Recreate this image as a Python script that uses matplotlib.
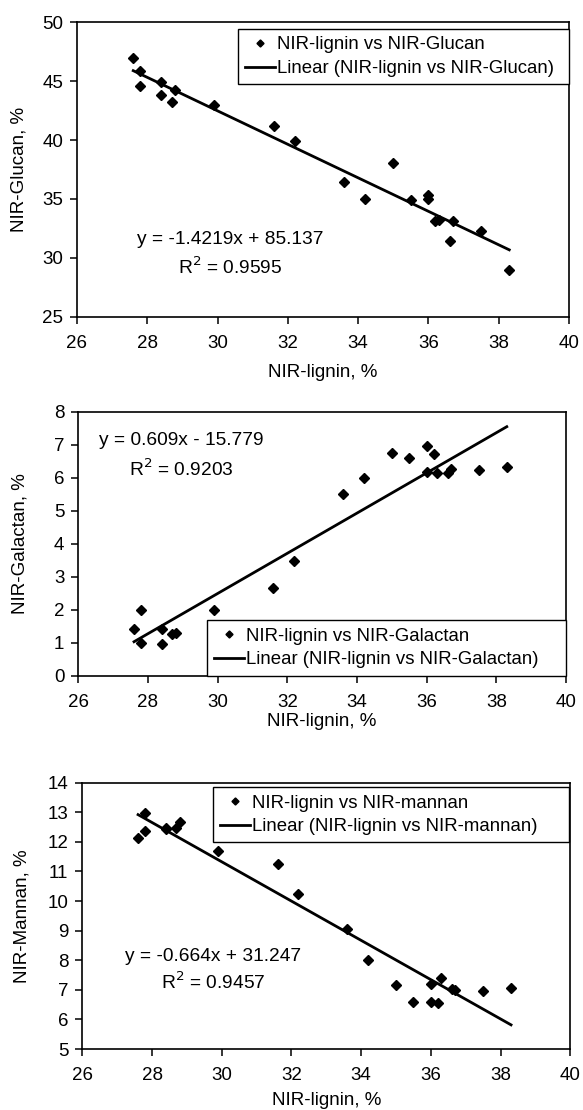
# Three NIR calibration scatter plots: lignin vs glucan / galactan / mannan
# with Excel-style linear trendlines.

import matplotlib
matplotlib.use("Agg")
import matplotlib.pyplot as plt
import numpy as np

plt.rcParams["font.family"] = ["Liberation Sans", "DejaVu Sans"]

# ---------------------------------------------------------------------------
# Data
# ---------------------------------------------------------------------------

lignin = [27.6, 27.8, 27.8, 28.4, 28.4, 28.7, 28.8, 29.9, 31.6, 32.2, 33.6,
          34.2, 35.0, 35.5, 36.0, 36.0, 36.2, 36.3, 36.6, 36.7, 37.5, 38.3]

glucan = [47.0, 45.9, 44.6, 44.9, 43.85, 43.2, 44.25, 43.0, 41.2, 39.95, 36.4,
          35.0, 38.05, 34.9, 35.3, 35.0, 33.1, 33.2, 31.4, 33.15, 32.3, 29.0]

galactan = [1.43, 2.0, 1.0, 1.41, 0.97, 1.25, 1.29, 2.0, 2.67, 3.47, 5.52,
            6.0, 6.76, 6.59, 6.95, 6.18, 6.72, 6.13, 6.13, 6.27, 6.22, 6.32]

mannan = [12.14, 12.98, 12.37, 12.48, 12.45, 12.47, 12.66, 11.7, 11.25, 10.25,
          9.06, 8.0, 7.16, 6.6, 7.2, 6.6, 6.55, 7.41, 7.02, 7.0, 6.96, 7.05]

# Trendline coefficients as printed on the chart
glucan_fit = (-1.4219, 85.137, 0.9595)
galactan_fit = (0.609, -15.779, 0.9203)
mannan_fit = (-0.664, 31.247, 0.9457)

x_ticks = [26, 28, 30, 32, 34, 36, 38, 40]

# ---------------------------------------------------------------------------
# Layout helpers (pixel boxes of the plot areas)
# ---------------------------------------------------------------------------

W, H = 583, 1110
FS = 13.5        # ticks and axis labels
FS_EQ = 13.8     # trendline equation
FS_LEG = 13.4    # legend


def px_axes(fig, left, right, top, bottom):
    return fig.add_axes([left / W, 1 - bottom / H,
                         (right - left) / W, (bottom - top) / H])


def style_axes(ax, ylim, yticks, ylabel, box, label_x_px, xlabel_top_px):
    left, right, top, bottom = box
    ax.set_xlim(26, 40)
    ax.set_ylim(*ylim)
    ax.set_xticks(x_ticks)
    ax.set_yticks(yticks)
    ax.tick_params(direction="out", length=5, width=1.1, labelsize=FS,
                   color="black")
    ax.tick_params(axis="x", pad=8)
    ax.tick_params(axis="y", pad=5)
    for sp in ax.spines.values():
        sp.set_linewidth(1.2)
        sp.set_color("black")
    ax.set_xlabel("NIR-lignin, %", fontsize=FS)
    ax.set_ylabel(ylabel, fontsize=FS)
    ax.xaxis.set_label_coords(0.5, (bottom - xlabel_top_px) / (bottom - top))
    ax.yaxis.set_label_coords((label_x_px - left) / (right - left), 0.5)


def draw_panel(ax, y, fit, name, eq_xy, eq_gap, eq_text):
    slope, icpt, r2 = fit
    ax.plot(lignin, y, linestyle="none", marker="D", markersize=5.5,
            color="black", label=f"NIR-lignin vs {name}")
    xs = np.array([min(lignin), max(lignin)])
    ax.plot(xs, slope * xs + icpt, color="black", linewidth=2,
            label=f"Linear (NIR-lignin vs {name})")
    ax.text(eq_xy[0], eq_xy[1], eq_text, ha="center", va="center",
            fontsize=FS_EQ)
    ax.text(eq_xy[0], eq_xy[1] - eq_gap, f"R$^2$ = {r2:.4f}",
            ha="center", va="center", fontsize=FS_EQ)


leg_kw = dict(fontsize=FS_LEG, frameon=True, fancybox=False,
              edgecolor="black", framealpha=1, handlelength=1.6,
              handletextpad=0.1, labelspacing=0.35, borderpad=0.4,
              borderaxespad=0, markerscale=0.65, mode="expand")


def add_legend(ax, box, leg_left_px, leg_right_px, y_anchor, loc):
    left, right, top, bottom = box
    w = right - left
    leg = ax.legend(loc=loc,
                    bbox_to_anchor=((leg_left_px - left) / w, y_anchor,
                                    (leg_right_px - leg_left_px) / w, 0.001),
                    **leg_kw)
    leg.get_frame().set_linewidth(1.0)
    return leg


fig = plt.figure(figsize=(W / 100, H / 100), dpi=100)

# --- Panel 1: glucan ---
box1 = (77, 569, 22.3, 316.7)
ax1 = px_axes(fig, *box1)
draw_panel(ax1, glucan, glucan_fit, "NIR-Glucan", (30.37, 31.57), 2.41,
           "y = -1.4219x + 85.137")
style_axes(ax1, (25, 50), [25, 30, 35, 40, 45, 50], "NIR-Glucan, %",
           box1, 28, 364)
add_legend(ax1, box1, 238, 569, 1 - 7 / 294.4, "upper left")

# --- Panel 2: galactan ---
box2 = (78.3, 566, 411.7, 675.7)
ax2 = px_axes(fig, *box2)
draw_panel(ax2, galactan, galactan_fit, "NIR-Galactan", (28.96, 7.13), 0.86,
           "y = 0.609x - 15.779")
style_axes(ax2, (0, 8), list(range(0, 9)), "NIR-Galactan, %",
           box2, 29, 713.5)
add_legend(ax2, box2, 207, 566, 0, "lower left")

# --- Panel 3: mannan ---
box3 = (82.3, 570.3, 782.7, 1049)
ax3 = px_axes(fig, *box3)
draw_panel(ax3, mannan, mannan_fit, "NIR-mannan", (29.76, 8.14), 0.89,
           "y = -0.664x + 31.247")
style_axes(ax3, (5, 14), list(range(5, 15)), "NIR-Mannan, %",
           box3, 31, 1092)
add_legend(ax3, box3, 213, 569, 1 - 4.6 / 266.3, "upper left")

fig.savefig("out.png", dpi=100)
